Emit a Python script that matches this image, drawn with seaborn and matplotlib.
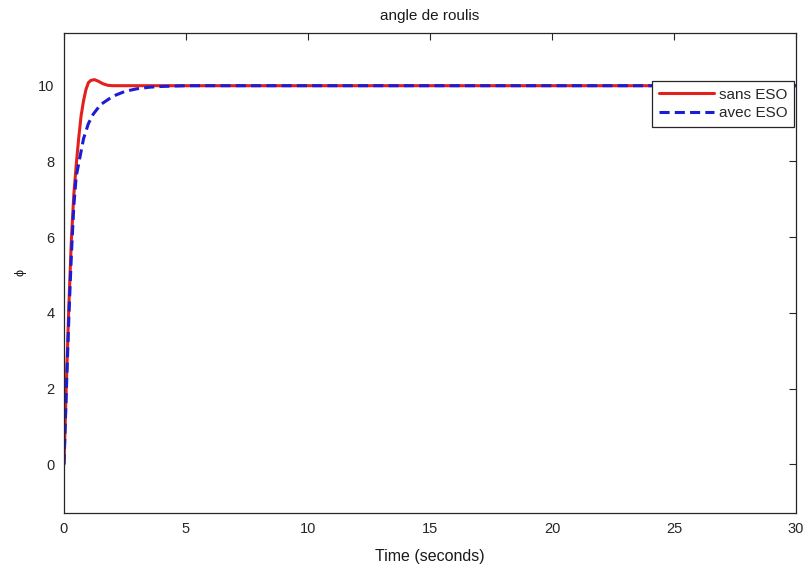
import numpy as np
import pandas as pd
import matplotlib
matplotlib.use("Agg")
import matplotlib.pyplot as plt
import seaborn as sns

# Data
t_sans = [0, 0.1, 0.2, 0.3, 0.4, 0.5, 0.6, 0.7, 0.8, 0.9, 1.0, 1.1, 1.25, 1.4, 1.6, 1.8, 2.0, 2.3, 3.0, 30.0]
y_sans = [0, 2.2, 4.2, 5.9, 7.1, 7.9, 8.6, 9.2, 9.6, 9.9, 10.08, 10.14, 10.16, 10.12, 10.05, 10.01, 10.0, 10.0, 10.0, 10.0]
t_avec = [0, 0.1, 0.2, 0.3, 0.4, 0.5, 0.65, 0.8, 1.0, 1.2, 1.5, 2.0, 2.5, 3.0, 3.5, 4.0, 5.0, 30.0]
y_avec = [0, 2.0, 3.9, 5.5, 6.8, 7.6, 8.1, 8.6, 9.0, 9.25, 9.5, 9.72, 9.85, 9.92, 9.96, 9.98, 10.0, 10.0]
x_ticks = [0, 5, 10, 15, 20, 25, 30]
y_ticks = [0, 2, 4, 6, 8, 10]

sns.set_style("white")
plt.rcParams['font.family'] = ['Liberation Sans', 'DejaVu Sans']

df = pd.concat([
    pd.DataFrame({"t": t_sans, "y": y_sans, "s": "sans ESO"}),
    pd.DataFrame({"t": t_avec, "y": y_avec, "s": "avec ESO"}),
])

fig = plt.figure(figsize=(8.07, 5.72), dpi=100)
ax = fig.add_axes([64/807, 1-512.7/572, (796-64)/807, (512.7-32.7)/572])

sns.lineplot(data=df, x="t", y="y", hue="s", style="s",
             palette={"sans ESO": "#e3201b", "avec ESO": "#1c1cd6"},
             dashes={"sans ESO": "", "avec ESO": (3.3, 1.7)},
             linewidth=2.2, ax=ax, sort=False, estimator=None, legend=True)

ax.set_xlim(0, 30)
ax.set_ylim(-1.28, 11.4)
ax.set_xticks(x_ticks)
ax.set_yticks(y_ticks)
ax.tick_params(direction='in', top=True, right=True, length=5, width=0.8,
               labelsize=10.5, colors='#262626', pad=7)
for sp in ax.spines.values():
    sp.set_color('#262626')
    sp.set_linewidth(0.9)

ax.set_title("angle de roulis", fontsize=11, color='#1a1a1a', pad=9)
ax.set_xlabel("Time (seconds)", fontsize=11.5, color='#1a1a1a', labelpad=9)
ax.set_ylabel("ϕ", fontsize=9, color='#1a1a1a', labelpad=8)

leg = ax.legend(loc='upper right', bbox_to_anchor=(0.9975, 0.9),
                fontsize=11, frameon=True, fancybox=False,
                handlelength=3.6, handletextpad=0.3, borderpad=0.45,
                labelspacing=0.3, borderaxespad=0.0)
leg.get_frame().set_edgecolor('#262626')
leg.get_frame().set_linewidth(0.9)
leg.get_frame().set_alpha(1)

fig.savefig("out.png", dpi=100, facecolor='white')
